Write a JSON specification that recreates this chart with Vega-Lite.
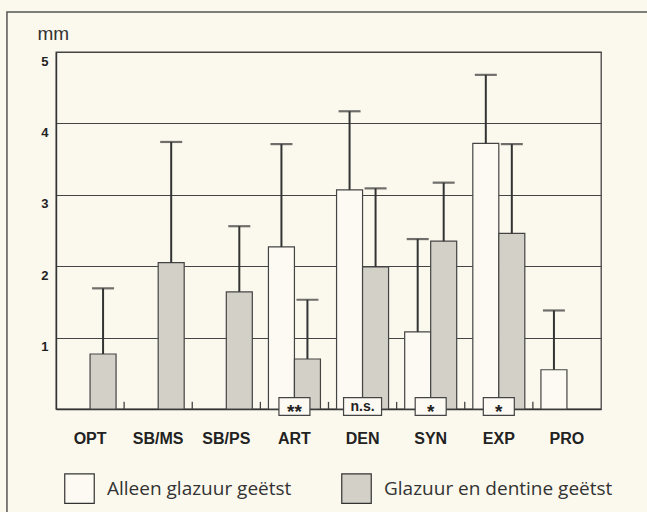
{
  "$schema": "https://vega.github.io/schema/vega-lite/v6.json",
  "width": 545,
  "height": 357,
  "autosize": {"type": "none"},
  "padding": {"left": 56, "top": 52, "right": 46, "bottom": 103},
  "background": "#fbf9ee",
  "config": {
    "view": {"stroke": "#444", "strokeWidth": 1.3},
    "axis": {"domainColor": "#333", "domainWidth": 1.4}
  },
  "datasets": {
    "bars": [
      {"cat": "OPT", "serie": "Glazuur en dentine geëtst", "mean": 0.77, "top": 1.69},
      {"cat": "SB/MS", "serie": "Glazuur en dentine geëtst", "mean": 2.05, "top": 3.74},
      {"cat": "SB/PS", "serie": "Glazuur en dentine geëtst", "mean": 1.64, "top": 2.56},
      {"cat": "ART", "serie": "Alleen glazuur geëtst", "mean": 2.27, "top": 3.71},
      {"cat": "ART", "serie": "Glazuur en dentine geëtst", "mean": 0.70, "top": 1.53},
      {"cat": "DEN", "serie": "Alleen glazuur geëtst", "mean": 3.07, "top": 4.17},
      {"cat": "DEN", "serie": "Glazuur en dentine geëtst", "mean": 1.99, "top": 3.09},
      {"cat": "SYN", "serie": "Alleen glazuur geëtst", "mean": 1.08, "top": 2.38},
      {"cat": "SYN", "serie": "Glazuur en dentine geëtst", "mean": 2.35, "top": 3.17},
      {"cat": "EXP", "serie": "Alleen glazuur geëtst", "mean": 3.72, "top": 4.68},
      {"cat": "EXP", "serie": "Glazuur en dentine geëtst", "mean": 2.46, "top": 3.71},
      {"cat": "PRO", "serie": "Alleen glazuur geëtst", "mean": 0.55, "top": 1.38}
    ],
    "cats": [
      {"cat": "SB/MS"}, {"cat": "SB/PS"}, {"cat": "ART"}, {"cat": "DEN"}, {"cat": "SYN"}, {"cat": "EXP"}, {"cat": "PRO"}
    ],
    "sig": [
      {"cat": "ART", "label": "**"},
      {"cat": "DEN", "label": "n.s."},
      {"cat": "SYN", "label": "*"},
      {"cat": "EXP", "label": "*"}
    ]
  },
  "resolve": {"scale": {"x": "independent"}},
  "layer": [
    {
      "data": {"values": [{}]},
      "mark": {"type": "rect", "filled": false, "stroke": "#555", "strokeWidth": 1.5},
      "encoding": {
        "x": {"datum": -0.09, "type": "quantitative", "scale": {"domain": [0, 1], "nice": false, "zero": false}, "axis": null},
        "x2": {"datum": 1.2},
        "y": {"datum": 5.56, "type": "quantitative"},
        "y2": {"datum": -2}
      }
    },
    {
      "layer": [
        {
          "data": {"name": "bars"},
          "mark": {"type": "bar", "stroke": "#444", "strokeWidth": 1.2},
          "encoding": {
            "x": {
              "field": "cat", "type": "nominal",
              "scale": {"domain": ["OPT", "SB/MS", "SB/PS", "ART", "DEN", "SYN", "EXP", "PRO"], "paddingInner": 0, "paddingOuter": 0},
              "axis": {
                "title": null, "labelAngle": 0, "ticks": false,
                "labelFont": "Liberation Sans", "labelFontWeight": "bold", "labelFontSize": 16, "labelColor": "#222",
                "labelPadding": 21
              }
            },
            "xOffset": {"field": "serie", "type": "nominal", "scale": {"domain": ["Alleen glazuur geëtst", "Glazuur en dentine geëtst"], "paddingInner": 0, "paddingOuter": 0.31}},
            "y": {
              "field": "mean", "type": "quantitative",
              "scale": {"domain": [0, 5], "nice": false},
              "axis": {
                "values": [1, 2, 3, 4, 5], "format": "d", "grid": true, "gridColor": "#444", "gridWidth": 1.2, "ticks": false,
                "labelFont": "Liberation Sans", "labelFontWeight": "bold", "labelFontSize": 13, "labelColor": "#222", "labelPadding": 8,
                "labelOffset": 9, "labelFlush": false,
                "title": "mm", "titleAngle": 0, "titleX": -19, "titleY": -13, "titleAlign": "left", "titleBaseline": "alphabetic",
                "titleFont": "Liberation Sans", "titleFontWeight": "normal", "titleFontSize": 19, "titleColor": "#333"
              }
            },
            "fill": {
              "field": "serie", "type": "nominal",
              "scale": {"domain": ["Alleen glazuur geëtst", "Glazuur en dentine geëtst"], "range": ["#fcfaf2", "#d2d0c7"]},
              "legend": {
                "title": null, "orient": "none", "legendX": 8, "legendY": 421, "direction": "horizontal", "padding": 0,
                "symbolType": "square", "symbolSize": 870, "symbolStrokeColor": "#333", "symbolStrokeWidth": 1.2,
                "labelFont": "Open Sans", "labelFontSize": 19, "labelColor": "#333", "labelOffset": 12, "columnPadding": 47, "labelLimit": 400
              }
            }
          }
        },
        {
          "data": {"name": "cats"},
          "mark": {"type": "rule", "strokeWidth": 1.3, "color": "#444"},
          "encoding": {
            "x": {"field": "cat", "type": "nominal", "bandPosition": 0},
            "y": {"datum": 0, "type": "quantitative"},
            "y2": {"datum": 0.1}
          }
        },
        {
          "data": {"name": "bars"},
          "mark": {"type": "rule", "strokeWidth": 2, "color": "#333"},
          "encoding": {
            "x": {"field": "cat", "type": "nominal"},
            "xOffset": {"field": "serie", "type": "nominal"},
            "y": {"field": "mean", "type": "quantitative"},
            "y2": {"field": "top"}
          }
        },
        {
          "data": {"name": "bars"},
          "mark": {"type": "tick", "thickness": 2.2, "size": 22, "color": "#333"},
          "encoding": {
            "x": {"field": "cat", "type": "nominal"},
            "xOffset": {"field": "serie", "type": "nominal"},
            "y": {"field": "top", "type": "quantitative"}
          }
        },
        {
          "data": {"name": "sig"},
          "transform": [{"filter": "datum.label != 'n.s.'"}],
          "mark": {"type": "bar", "width": 31, "fill": "#fcfaf2", "stroke": "#444", "strokeWidth": 1.2},
          "encoding": {
            "x": {"field": "cat", "type": "nominal"},
            "y": {"datum": 0.16, "type": "quantitative"},
            "y2": {"datum": -0.09}
          }
        },
        {
          "data": {"name": "sig"},
          "transform": [{"filter": "datum.label == 'n.s.'"}],
          "mark": {"type": "bar", "width": 38, "fill": "#fcfaf2", "stroke": "#444", "strokeWidth": 1.2},
          "encoding": {
            "x": {"field": "cat", "type": "nominal"},
            "y": {"datum": 0.16, "type": "quantitative"},
            "y2": {"datum": -0.09}
          }
        },
        {
          "data": {"name": "sig"},
          "transform": [{"filter": "datum.label != 'n.s.'"}],
          "mark": {"type": "text", "font": "Liberation Sans", "fontWeight": "bold", "fontSize": 19, "color": "#222", "baseline": "middle", "dy": 5},
          "encoding": {
            "x": {"field": "cat", "type": "nominal"},
            "y": {"datum": 0.035, "type": "quantitative"},
            "text": {"field": "label"}
          }
        },
        {
          "data": {"name": "sig"},
          "transform": [{"filter": "datum.label == 'n.s.'"}],
          "mark": {"type": "text", "font": "Liberation Sans", "fontWeight": "bold", "fontSize": 14, "color": "#222", "baseline": "middle"},
          "encoding": {
            "x": {"field": "cat", "type": "nominal"},
            "y": {"datum": 0.035, "type": "quantitative"},
            "text": {"field": "label"}
          }
        }
      ]
    }
  ]
}
